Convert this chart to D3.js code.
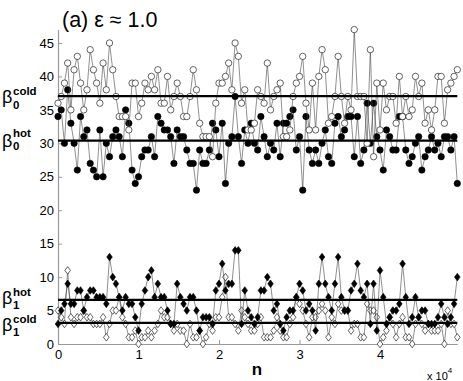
<!DOCTYPE html>
<html>
<head>
<meta charset="utf-8">
<script src="https://cdn.jsdelivr.net/npm/d3@7"></script>
<style>
  body { margin: 0; background: #fff; }
  svg { font-family: "Liberation Sans", Arial, sans-serif; }
</style>
</head>
<body>
<div id="svg-container"></div>
<script>
// samples every 400 steps, n = 0 ... 49600
const step = 400

const b0Cold = [36,37,39,42,35,41,43,39,35,38, 44,41,39,36,42,38,45,41,37,34,
    34,34,32,39,39,34,36,39,38,40, 38,41,36,36,40,35,37,39,37,34,
    34,37,41,38,33,31,31,31,28,36, 39,39,40,42,38,45,43,36,38,32,
    32,33,38,37,36,42,35,37,38,39, 31,31,32,37,39,40,43,36,32,39,
    32,40,44,41,33,34,37,43,37,33, 37,35,47,37,37,37,30,44,28,39,
    32,39,35,37,37,33,40,34,37,34, 35,40,37,39,33,35,32,35,40,40,
    33,38,39,40,41]
const b0Hot = [34,35,30,38,33,30,26,34,31,32, 27,26,25,32,25,30,28,31,32,31,
    28,35,33,26,24,25,28,29,29,31, 28,34,33,32,32,31,27,32,31,31,
    29,27,27,23,29,27,27,29,33,32, 28,33,24,30,31,37,31,27,32,30,
    33,30,29,34,31,28,30,29,33,28, 33,33,34,35,29,31,23,34,29,27,
    29,27,30,32,28,27,33,34,31,32, 34,34,28,34,27,29,36,30,36,31,
    29,26,32,31,29,29,34,34,29,27, 28,30,31,26,28,29,31,29,30,28,
    31,31,29,31,24]
const b1Hot = [3,5,6,9,6,6,8,8,5,7, 8,8,7,7,7,6,13,10,9,7,
    5,7,6,6,4,2,6,8,10,11, 7,9,7,7,5,3,3,9,7,6,
    5,7,7,5,2,4,4,4,3,8, 9,12,8,9,9,14,14,3,8,5,
    4,3,4,8,8,10,9,5,6,3, 2,4,5,5,7,9,8,5,6,5,
    2,9,13,9,7,5,9,13,7,5, 5,8,9,12,8,7,9,3,9,2,
    11,7,3,4,5,5,6,12,7,3, 4,7,4,5,5,3,3,3,4,6,
    4,3,4,6,10]
const b1Cold = [5,4,3,11,4,3,4,4,5,4, 4,3,3,3,4,1,3,5,5,7,
    4,3,1,1,2,0,1,1,2,1, 2,3,5,4,4,3,2,3,2,2,
    0,3,1,1,2,0,1,3,2,4, 4,7,10,4,4,3,2,5,4,3,
    2,2,3,4,1,1,1,2,4,2, 1,1,3,4,7,6,5,3,1,4,
    4,5,6,5,1,4,3,6,5,5, 5,2,3,3,1,1,6,5,5,4,
    0,1,2,4,3,1,3,4,1,1, 0,3,4,3,2,3,2,2,2,3,
    0,5,3,3,1]

// average levels (thick horizontal lines)
const meanLevels = [37.05, 30.4, 6.6, 3.15]
const yTicks = [0,5,10,15,20,25,30,35,40,45]
const xTicks = [0,10000,20000,30000,40000]

const width = 463, height = 381

let svg = d3.select('#svg-container')
    .append('svg')
    .attr('width', width)
    .attr('height', height)

let x = d3.scaleLinear().domain([0, 49600]).range([58, 457.3])
let y = d3.scaleLinear().domain([0, 47]).range([344, 29.6])

// axes
let yAxis = svg.append('g')
    .attr('transform', 'translate(58,0)')
    .call(d3.axisLeft(y).tickValues(yTicks).tickSizeInner(-4).tickSizeOuter(0).tickPadding(4))
let xAxis = svg.append('g')
    .attr('transform', 'translate(0,344)')
    .call(d3.axisBottom(x).tickValues(xTicks).tickFormat(d => d / 10000).tickSizeInner(-4).tickSizeOuter(0).tickPadding(6))

;[yAxis, xAxis].forEach(a => {
    a.select('.domain').attr('stroke', '#999').attr('stroke-width', 1.2)
    a.selectAll('.tick line').attr('stroke', '#999')
    a.selectAll('.tick text').attr('font-size', 13).attr('fill', '#000')
        .attr('font-family', '"Liberation Sans", Arial, sans-serif')
})

const diamond = 'M0,-3.8L2.8,0L0,3.8L-2.8,0Z'

const drawSeries = (vals, shape, fill) => {
    let pts = vals.map((v, i) => [x(i * step), y(v)])
    svg.append('path')
        .attr('d', d3.line()(pts))
        .attr('fill', 'none')
        .attr('stroke', '#444')
        .attr('stroke-width', 0.6)
    let g = svg.append('g')
    if (shape == 'circle') {
        g.selectAll('circle')
            .data(pts)
            .enter().append('circle')
            .attr('cx', d => d[0])
            .attr('cy', d => d[1])
            .attr('r', 3.2)
            .attr('fill', fill)
            .attr('stroke', '#000')
            .attr('stroke-width', 0.6)
    } else {
        g.selectAll('path')
            .data(pts)
            .enter().append('path')
            .attr('d', diamond)
            .attr('transform', d => `translate(${d[0]},${d[1]})`)
            .attr('fill', fill)
            .attr('stroke', '#000')
            .attr('stroke-width', 0.6)
    }
}

drawSeries(b0Hot, 'circle', '#000')
drawSeries(b0Cold, 'circle', '#fff')
drawSeries(b1Cold, 'diamond', '#fff')
drawSeries(b1Hot, 'diamond', '#000')

// mean lines on top
svg.selectAll('.mean')
    .data(meanLevels)
    .enter().append('line')
    .attr('class', 'mean')
    .attr('x1', x(0))
    .attr('x2', x(49600))
    .attr('y1', d => y(d))
    .attr('y2', d => y(d))
    .attr('stroke', '#000')
    .attr('stroke-width', 2.2)

// title
svg.append('text')
    .attr('x', 62)
    .attr('y', 27)
    .attr('font-size', 21.5)
    .text('(a) ε ≈ 1.0')

// axis labels
svg.append('text')
    .attr('x', 257)
    .attr('y', 375)
    .attr('text-anchor', 'middle')
    .attr('font-size', 17)
    .attr('font-weight', 'bold')
    .text('n')
let expo = svg.append('text')
    .attr('x', 427)
    .attr('y', 380)
    .attr('font-size', 11)
expo.append('tspan').text('x 10')
expo.append('tspan').attr('font-size', 8).attr('dy', -7).text('4')

// beta labels: base glyph, superscript and subscript stacked
const betaLabels = [
    {sup: 'cold', sub: '0', base: 103, supY: 95, subY: 108.5},
    {sup: 'hot', sub: '0', base: 147, supY: 136.5, subY: 150},
    {sup: 'hot', sub: '1', base: 304, supY: 295.5, subY: 309},
    {sup: 'cold', sub: '1', base: 331, supY: 322.5, subY: 336}
]
betaLabels.forEach(b => {
    svg.append('text').attr('x', 2).attr('y', b.base).attr('font-size', 18).text('β')
    svg.append('text').attr('x', 13).attr('y', b.supY).attr('font-size', 11.5)
        .attr('font-weight', 'bold').text(b.sup)
    svg.append('text').attr('x', 13).attr('y', b.subY).attr('font-size', 11.5)
        .attr('font-weight', 'bold').text(b.sub)
})
</script>
</body>
</html>
